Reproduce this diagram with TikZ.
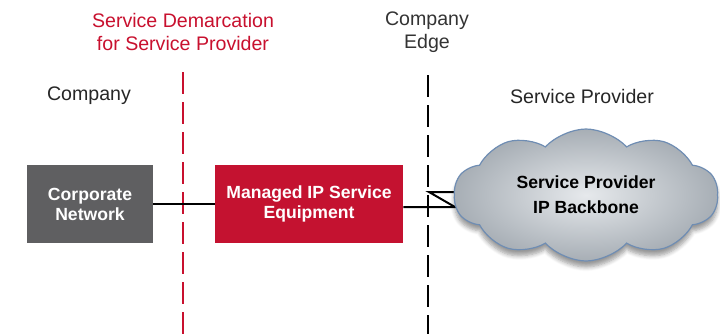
\documentclass[tikz,border=0pt]{standalone}
\usepackage{fontspec}
\setmainfont{Liberation Sans}
\usetikzlibrary{positioning,shapes.symbols,shadows.blur}
\definecolor{demred}{HTML}{C8102E}
\definecolor{boxred}{HTML}{C41230}
\definecolor{boxgray}{HTML}{5F5F61}
\definecolor{cloudline}{HTML}{6F8DB3}
\definecolor{cloudin}{HTML}{E6E9EC}
\definecolor{cloudout}{HTML}{A7AEB5}
\begin{document}
\begin{tikzpicture}[x=0.5pt,y=-0.5pt,
    label/.style={align=center,font=\fontsize{9.8}{11.5}\selectfont},
    unit/.style={minimum width=63pt,minimum height=39pt,align=center,
                 text=white,font=\fontsize{8.8}{10}\selectfont\bfseries},
    border/.style={line width=1pt,dash pattern=on 11pt off 4pt}]
%
  \useasboundingbox (0,0) rectangle (720,334);
%
  % labels on top
  \node[label,text=demred] (demlbl) at (183,32) {Service Demarcation\\for Service Provider};
  \node[label,text=black!80] (edgelbl) at (427,32) {Company\\Edge};
  \node[label,text=black!85] (complbl) at (89,96) {Company};
  \node[label,text=black!85] (splbl) at (582,96) {Service Provider};
%
  % boundaries
  \coordinate (demtop) at (183,72);  \coordinate (dembot) at (183,334);
  \coordinate (edgetop) at (428,75); \coordinate (edgebot) at (428,334);
  \draw[border,demred] (demtop) -- (dembot);
  \draw[border,black] (edgetop) -- (edgebot);
%
  % boxes
  \node[unit,fill=boxgray] (corp) at (90,204) {Corporate\\Network};
  \node[unit,fill=boxred,minimum width=94pt] (mip) at (309,204) {Managed IP Service\\Equipment};
  \draw[line width=1pt] (corp) -- (mip);
%
  % serial link into the cloud
  \coordinate (zz1) at (455,207);
  \coordinate (zz2) at (429,192);
  \coordinate (zz3) at (466,192);
  \draw[line width=1pt] (mip.east |- zz1) -- (zz1) -- (zz2) -- (zz3);
%
  \node[cloud,cloud puffs=10,cloud puff arc=95,aspect=2.0,
        minimum width=132pt,minimum height=66pt,
        draw=cloudline,line width=0.6pt,
        inner color=cloudin,outer color=cloudout,
        blur shadow={shadow xshift=0pt,shadow yshift=-3pt,shadow blur steps=6},
        align=center,font=\fontsize{8.8}{12.5}\selectfont\bfseries]
        (cloud) at (586,195) {Service Provider\\IP Backbone};
\end{tikzpicture}
\end{document}
